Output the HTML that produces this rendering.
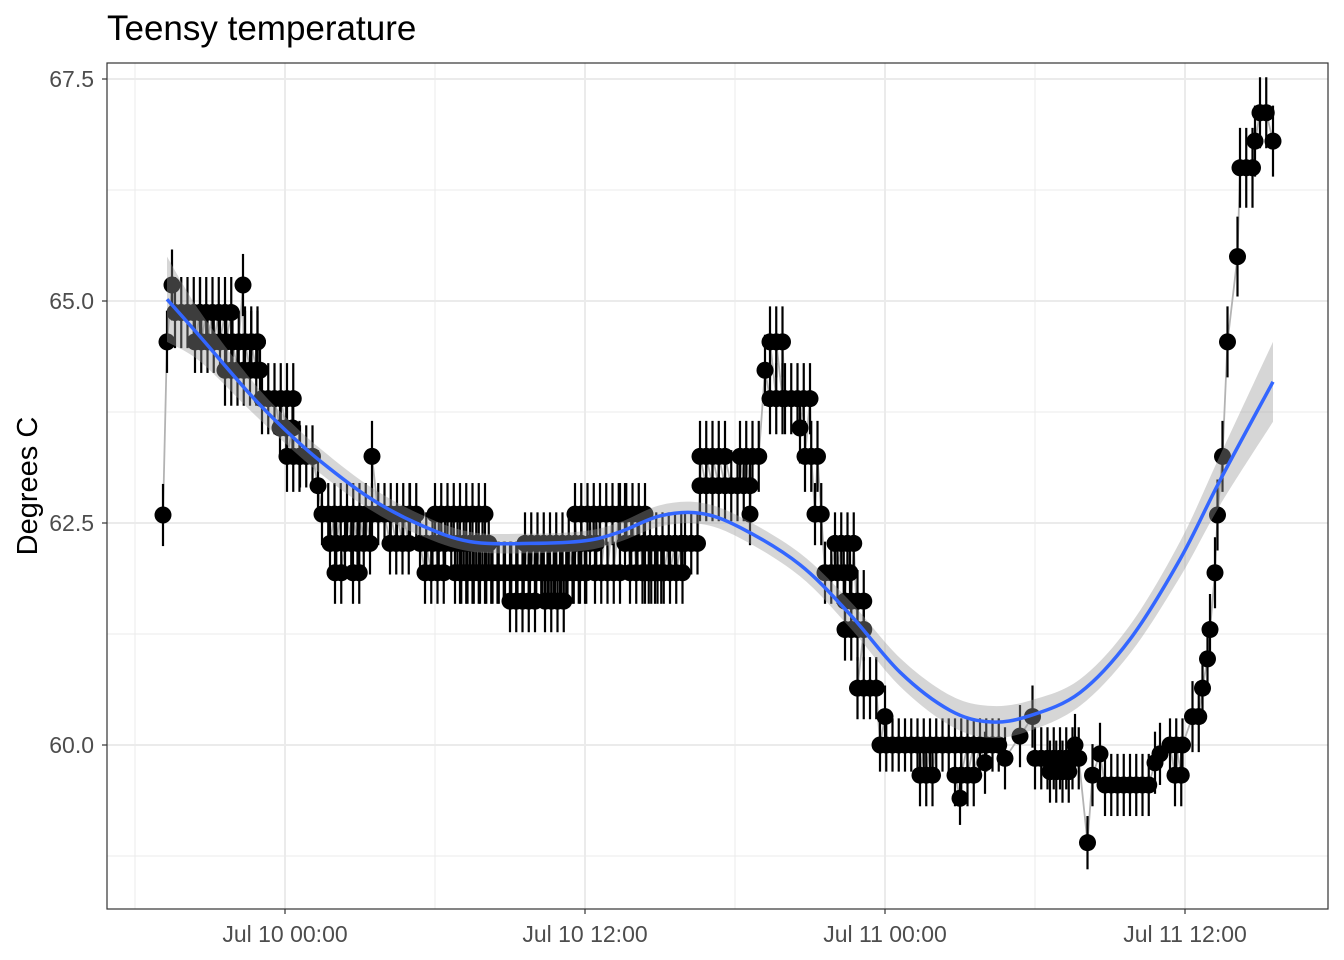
<!DOCTYPE html>
<html><head><meta charset="utf-8"><style>
body{margin:0;background:#fff;}
svg{display:block;font-family:"Liberation Sans",Arial,sans-serif;}
</style></head><body>
<svg id="chart" width="1344" height="960">
<text x="107" y="40" font-size="35" fill="#000">Teensy temperature</text>
<text transform="translate(37,486) rotate(-90)" text-anchor="middle" font-size="29" fill="#000">Degrees C</text>
</svg>
<script>
// run data: hours relative to Jul 10 00:00, temperature
const runStart=[-4.88,-4.72,-4.52,-4.4,-3.6,-3.4,-2.4,-1.68,-1.6,-1.0,-0.92,-0.2,0.08,0.6,1.32,1.48,1.8,2.4,2.0,3.48,2.72,4.2,5.0,5.4,5.6,6.4,6.0,6.8,7.0,9.0,10.4,9.6,11.6,12.2,12.4,13.6,13.4,13.8,14.4,16.0,16.6,16.6,18.6,19.4,18.2,19.2,19.4,20.0,20.6,20.8,21.2,21.6,22.0,22.4,22.4,22.9,24.0,23.8,25.4,26.8,27.0,28.0,28.8,29.4,29.9,30.0,30.6,31.6,32.1,32.3,32.6,32.8,34.8,35.0,35.4,35.6,36.3,36.7,36.9,37.0,37.2,37.3,37.5,37.7,38.1,38.2,38.8,39.0,39.52];
const runEnd=  [-4.88,-4.72,-4.52,-3.4,-1.0,-2.0,-1.0,-1.6,-1.0,-0.9,0.4,0.4,0.6,1.2,1.48,5.0,2.2,3.5,2.4,3.48,3.2,5.0,5.4,6.4,6.4,8.2,8.2,12.2,12.2,10.0,11.2,12.0,13.6,12.6,13.6,16.0,14.4,15.2,16.0,16.6,18.6,17.6,18.6,20.0,19.0,19.2,20.0,21.0,20.8,21.4,21.6,22.6,22.8,23.2,23.2,23.8,24.0,28.6,26.0,27.6,27.0,28.0,28.8,29.4,29.9,31.8,31.4,31.6,32.1,32.3,32.6,34.6,34.8,35.0,36.0,36.0,36.6,36.7,36.9,37.0,37.2,37.3,37.5,37.7,38.1,38.7,38.8,39.4,39.52];
const runTemp= [62.59,64.54,65.18,64.87,64.54,64.87,64.22,65.18,64.54,64.22,63.9,63.57,63.25,63.25,62.92,62.6,62.27,62.27,61.94,63.25,61.94,62.27,62.6,62.27,61.94,62.27,62.6,61.94,61.94,61.62,61.62,62.27,62.6,62.27,61.94,62.27,62.6,61.94,61.94,62.27,62.92,63.25,62.6,63.9,63.25,64.22,64.54,63.9,63.57,63.25,62.6,61.94,62.27,61.3,61.62,60.64,60.32,60.0,59.66,59.66,59.4,59.8,59.85,60.1,60.32,59.85,59.7,60.0,58.9,59.66,59.9,59.55,59.8,59.9,60.0,59.66,60.32,60.64,60.97,61.3,61.94,62.59,63.25,64.54,65.5,66.5,66.8,67.12,66.8];
const runErr=  [0.35,0.35,0.4,0.4,0.35,0.4,0.4,0.35,0.4,0.35,0.4,0.35,0.4,0.35,0.4,0.35,0.35,0.35,0.35,0.4,0.35,0.35,0.35,0.35,0.35,0.35,0.35,0.35,0.35,0.35,0.35,0.35,0.35,0.35,0.35,0.35,0.35,0.35,0.35,0.35,0.4,0.4,0.35,0.4,0.4,0.4,0.4,0.4,0.4,0.4,0.35,0.35,0.35,0.35,0.35,0.35,0.35,0.3,0.35,0.35,0.3,0.35,0.35,0.35,0.35,0.35,0.35,0.35,0.3,0.35,0.35,0.35,0.35,0.35,0.3,0.35,0.4,0.4,0.4,0.4,0.4,0.4,0.4,0.4,0.45,0.45,0.4,0.4,0.4];
// loess smooth
const smoothHours=[-4.72,-3.4,-1.4,0,1.4,3.4,5.4,7.4,9.8,12,13.4,15,16.6,18.2,20.6,22.6,24.6,26.6,28.2,29.8,31.8,33.8,35.8,37.4,39.52];
const smoothTemp=[65.02,64.6,63.95,63.55,63.2,62.78,62.48,62.29,62.27,62.3,62.4,62.58,62.61,62.45,62.03,61.47,60.82,60.39,60.26,60.33,60.59,61.19,62.09,62.98,64.09];
const smoothSe=[0.48,0.28,0.18,0.15,0.14,0.13,0.12,0.11,0.11,0.11,0.11,0.12,0.12,0.12,0.13,0.15,0.16,0.17,0.18,0.17,0.15,0.16,0.2,0.28,0.45];
const xTickHours=[0,12,24,36];
const xTickLabels=["Jul 10 00:00","Jul 10 12:00","Jul 11 00:00","Jul 11 12:00"];
const yTicks=[60,62.5,65,67.5];
const yTickLabels=["60.0","62.5","65.0","67.5"];

const svg=document.getElementById('chart');
const NS='http://www.w3.org/2000/svg';
const L=107,R=1328,T=63,B=909;
const xs=h=>285+h*25;
const ys=v=>745-(v-60)*88.8;
function mk(tag,attrs,parent){const e=document.createElementNS(NS,tag);for(const k in attrs)e.setAttribute(k,attrs[k]);(parent||svg).appendChild(e);return e;}

const grid=mk('g',{});


for(let i=0;i<yTicks.length-1;i++){const m=(yTicks[i]+yTicks[i+1])/2;mk('line',{x1:L,x2:R,y1:ys(m),y2:ys(m),stroke:'#ebebeb','stroke-width':1},grid);}
mk('line',{x1:L,x2:R,y1:ys(58.75),y2:ys(58.75),stroke:'#ebebeb','stroke-width':1},grid);
for(let i=0;i<xTickHours.length;i++){const m=xTickHours[i]-6;mk('line',{y1:T,y2:B,x1:xs(m),x2:xs(m),stroke:'#ebebeb','stroke-width':1},grid);}
yTicks.forEach(v=>mk('line',{x1:L,x2:R,y1:ys(v),y2:ys(v),stroke:'#ebebeb','stroke-width':2},grid));
xTickHours.forEach(h=>mk('line',{y1:T,y2:B,x1:xs(h),x2:xs(h),stroke:'#ebebeb','stroke-width':2},grid));

// expand runs
const pts=[];
for(let i=0;i<runStart.length;i++){
  let h=runStart[i];
  do{pts.push([h,runTemp[i],runErr[i]]);h+=0.25;}while(h<=runEnd[i]+1e-6);
}
const sorted=pts.slice().sort((a,b)=>a[0]-b[0]);
const conn=mk('polyline',{points:sorted.map(p=>xs(p[0])+','+ys(p[1])).join(' '),fill:'none',stroke:'#b3b3b3','stroke-width':1.8});


const eg=mk('g',{stroke:'#000','stroke-width':2.2});


pts.forEach(p=>mk('line',{x1:xs(p[0]),x2:xs(p[0]),y1:ys(p[1]-p[2]),y2:ys(p[1]+p[2])},eg));
const pg=mk('g',{fill:'#000'});


pts.forEach(p=>mk('circle',{cx:xs(p[0]),cy:ys(p[1]),r:8.5},pg));

function curve(P){
  let d='M'+P[0][0]+','+P[0][1];
  for(let i=0;i<P.length-1;i++){
    const p0=P[Math.max(0,i-1)],p1=P[i],p2=P[i+1],p3=P[Math.min(P.length-1,i+2)];
    d+=' C'+(p1[0]+(p2[0]-p0[0])/6)+','+(p1[1]+(p2[1]-p0[1])/6)+' '+(p2[0]-(p3[0]-p1[0])/6)+','+(p2[1]-(p3[1]-p1[1])/6)+' '+p2[0]+','+p2[1];
  }
  return d;
}
const up=smoothHours.map((h,i)=>[xs(h),ys(smoothTemp[i]+smoothSe[i])]);
const lo=smoothHours.map((h,i)=>[xs(h),ys(smoothTemp[i]-smoothSe[i])]).reverse();
const band=mk('path',{d:curve(up)+' L'+curve(lo).slice(1)+' Z',fill:'#999','fill-opacity':0.4});


const sl=mk('path',{d:curve(smoothHours.map((h,i)=>[xs(h),ys(smoothTemp[i])])),fill:'none',stroke:'#3366ff','stroke-width':3.5});



const frame=mk('rect',{x:L,y:T,width:R-L,height:B-T,fill:'none',stroke:'#333','stroke-width':1.2});


yTicks.forEach((v,i)=>{
  mk('line',{x1:L-5,x2:L,y1:ys(v),y2:ys(v),stroke:'#333','stroke-width':1.2});
  const t=mk('text',{x:94,y:ys(v)+8,'text-anchor':'end','font-size':23,fill:'#4d4d4d'});
  t.textContent=yTickLabels[i];
  
  
});
xTickHours.forEach((h,i)=>{
  mk('line',{x1:xs(h),x2:xs(h),y1:B,y2:B+5,stroke:'#333','stroke-width':1.2});
  const t=mk('text',{x:xs(h),y:942,'text-anchor':'middle','font-size':23,fill:'#4d4d4d'});
  t.textContent=xTickLabels[i];
  
  
});
</script>
</body></html>
